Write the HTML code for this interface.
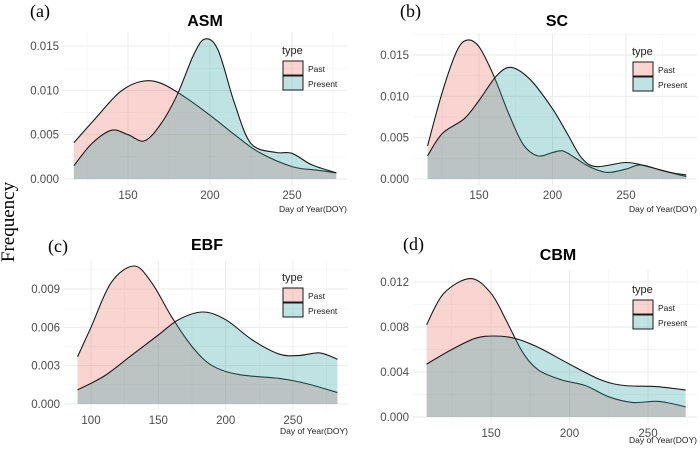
<!DOCTYPE html>
<html><head><meta charset="utf-8"><style>
body{margin:0;background:#fff;}
svg text{font-family:"Liberation Sans",sans-serif;}
</style></head><body>
<svg id="c" width="700" height="446" xmlns="http://www.w3.org/2000/svg">
<text x="14" y="222" transform="rotate(-90 14 222)" text-anchor="middle" font-size="19" fill="#000" style="font-family:'Liberation Serif',serif">Frequency</text>
</svg>
<script>
// Panel (a) ASM
const aPastX=[117,130,145,158,170,185,200,215,230,250,265,277];
const aPastY=[0.0041,0.0068,0.0098,0.0110,0.0108,0.0092,0.0072,0.0050,0.0030,0.0014,0.0010,0.0007];
const aPresX=[117,128,140,150,160,170,180,190,197,205,215,225,240,250,262,277];
const aPresY=[0.0015,0.0040,0.0055,0.0050,0.0043,0.0062,0.0095,0.0140,0.0158,0.0145,0.0085,0.0040,0.0030,0.0029,0.0016,0.0007];
const aYTicks=[0,0.005,0.010,0.015];
const aXTicks=[150,200,250];
// Panel (b) SC
const bPastX=[115,125,135,142,150,160,170,180,190,200,207,215,225,237,250,260,275,291];
const bPastY=[0.0040,0.0105,0.0155,0.0168,0.0160,0.0125,0.0080,0.0042,0.0028,0.0032,0.0034,0.0026,0.0015,0.0008,0.0012,0.0017,0.0010,0.0003];
const bPresX=[115,125,140,150,162,172,185,200,210,220,230,250,265,280,291];
const bPresY=[0.0028,0.0055,0.0073,0.0095,0.0125,0.0135,0.0120,0.0085,0.0055,0.0025,0.0015,0.0020,0.0015,0.0008,0.0005];
const bYTicks=[0,0.005,0.010,0.015];
const bXTicks=[150,200,250];
// Panel (c) EBF
const cPastX=[90,100,115,132,145,160,175,190,210,240,260,283];
const cPastY=[0.0037,0.0060,0.0095,0.0108,0.0095,0.0068,0.0045,0.0030,0.0023,0.0020,0.0016,0.0009];
const cPresX=[90,110,130,150,165,183,200,220,240,255,270,283];
const cPresY=[0.0011,0.0022,0.0038,0.0054,0.0066,0.0072,0.0066,0.0050,0.0039,0.0038,0.0040,0.0035];
const cYTicks=[0,0.003,0.006,0.009];
const cXTicks=[100,150,200,250];
// Panel (d) CBM
const dPastX=[109,120,137,150,160,170,180,195,210,225,240,255,265,274];
const dPastY=[0.0082,0.0110,0.0123,0.0110,0.0085,0.0058,0.0042,0.0033,0.0028,0.0018,0.0013,0.0014,0.0012,0.0009];
const dPresX=[109,125,140,152,165,180,200,220,235,255,274];
const dPresY=[0.0047,0.0060,0.0070,0.0072,0.0070,0.0062,0.0047,0.0033,0.0028,0.0027,0.0024];
const dYTicks=[0,0.004,0.008,0.012];
const dXTicks=[150,200,250];

const PAST_COL='#F07068', PRES_COL='#2a9e9e';
const NS="http://www.w3.org/2000/svg";
const svg=document.getElementById('c');
function el(tag,attrs,parent){const e=document.createElementNS(NS,tag);for(const k in attrs)e.setAttribute(k,attrs[k]);(parent||svg).appendChild(e);return e;}
function smooth(pts){let d=`M${pts[0][0]},${pts[0][1]}`;for(let i=0;i<pts.length-1;i++){const p0=pts[i-1]||pts[i],p1=pts[i],p2=pts[i+1],p3=pts[i+2]||p2;
const c1x=p1[0]+(p2[0]-p0[0])/6,c1y=p1[1]+(p2[1]-p0[1])/6,c2x=p2[0]-(p3[0]-p1[0])/6,c2y=p2[1]-(p3[1]-p1[1])/6;
d+=` C${c1x.toFixed(1)},${c1y.toFixed(1)} ${c2x.toFixed(1)},${c2y.toFixed(1)} ${p2[0].toFixed(1)},${p2[1].toFixed(1)}`;}return d;}

function panel(o){
  const sx=v=>o.x0+(v-o.d0)*(o.x1-o.x0)/(o.d1-o.d0);
  const sy=v=>o.y0-(v)*(o.y0-o.yT)/o.vT;
  const g=el('g',{});
  
  
  const step=o.yTicks[1]-o.yTicks[0];
  for(let i=0;i<o.yTicks.length;i++){
    const ln=el('line',{x1:o.L,x2:o.R,y1:sy(o.yTicks[i]),y2:sy(o.yTicks[i]),stroke:'#ebebeb','stroke-width':1},g);
    
    const mv=o.yTicks[i]+step/2;
    if(sy(mv)>o.T){el('line',{x1:o.L,x2:o.R,y1:sy(mv),y2:sy(mv),stroke:'#f3f3f3','stroke-width':0.7},g);}
    const t=el('text',{x:o.L-4,y:sy(o.yTicks[i])+4,'text-anchor':'end','font-size':11.5,fill:'#4d4d4d'},g);
    t.textContent=o.yTicks[i].toFixed(3);
    
  }
  const xs=o.xTicks[1]-o.xTicks[0];
  for(let v=o.xTicks[0]-xs;v<=o.xTicks[o.xTicks.length-1]+xs;v+=xs/2){
    const x=sx(v);if(x<o.L||x>o.R)continue;
    const major=o.xTicks.includes(v);
    el('line',{x1:x,x2:x,y1:o.T,y2:o.B,stroke:major?'#ebebeb':'#f3f3f3','stroke-width':major?1:0.7},g);
  }
  o.xTicks.forEach(v=>{const t=el('text',{x:sx(v),y:o.B+14,'text-anchor':'middle','font-size':11.5,fill:'#4d4d4d'},g);t.textContent=v;
    });
  [[o.pX,o.pY,PAST_COL,'past'],[o.qX,o.qY,PRES_COL,'present']].forEach(([X,Y,col,nm])=>{
    const pts=X.map((v,i)=>[sx(v),sy(Y[i])]);
    const line=smooth(pts);
    const area=el('path',{d:line+` L${pts[pts.length-1][0]},${sy(0)} L${pts[0][0]},${sy(0)} Z`,fill:col,'fill-opacity':0.3,stroke:'none'},g);
    
    const ln=el('path',{d:line,fill:'none',stroke:'#1a1a1a','stroke-width':1.1},g);
    
  });
  const tt=el('text',{x:o.tx,y:o.ty,'text-anchor':'middle','font-size':16,'font-weight':'bold',fill:'#000'},g);tt.textContent=o.name;
  
  const lb=el('text',{x:o.lx,y:o.ly,'font-size':18,fill:'#000',style:"font-family:'Liberation Serif',serif"},g);lb.textContent=o.lab;
  
  const xl=el('text',{x:o.R,y:o.xly,'text-anchor':'end','font-size':8.5,fill:'#222'},g);xl.textContent='Day of Year(DOY)';
  
  const lg=el('g',{},g);
  const ty=el('text',{x:o.gx,y:o.gy,'font-size':11,fill:'#222'},lg);ty.textContent='type';
  
  [['Past',PAST_COL],['Present',PRES_COL]].forEach(([n,c],i)=>{
    const r=el('rect',{x:o.gx+1,y:o.gy+7+i*15,width:20,height:14,fill:c,'fill-opacity':0.3,stroke:'#1a1a1a','stroke-width':1},lg);
    
    const t=el('text',{x:o.gx+26,y:o.gy+18+i*15,'font-size':8.5,fill:'#222'},lg);t.textContent=n;
    
  });
}
panel({name:'ASM',lab:'(a)',pX:aPastX,pY:aPastY,qX:aPresX,qY:aPresY,yTicks:aYTicks,xTicks:aXTicks,
  x0:128,d0:150,x1:292,d1:250,y0:179,yT:46,vT:0.015,L:63,R:347,T:32,B:185,tx:205,ty:26,lx:30,ly:17,xly:212,gx:282,gy:54});
panel({name:'SC',lab:'(b)',pX:bPastX,pY:bPastY,qX:bPresX,qY:bPresY,yTicks:bYTicks,xTicks:bXTicks,
  x0:479,d0:150,x1:626,d1:250,y0:179,yT:55,vT:0.015,L:413,R:697,T:33,B:185,tx:557,ty:26,lx:400,ly:17,xly:212,gx:632,gy:55});
panel({name:'EBF',lab:'(c)',pX:cPastX,pY:cPastY,qX:cPresX,qY:cPresY,yTicks:cYTicks,xTicks:cXTicks,
  x0:91,d0:100,x1:293,d1:250,y0:404,yT:289,vT:0.009,L:64,R:348,T:260,B:410,tx:207,ty:250,lx:48,ly:252,xly:434,gx:282,gy:281});
panel({name:'CBM',lab:'(d)',pX:dPastX,pY:dPastY,qX:dPresX,qY:dPresY,yTicks:dYTicks,xTicks:dXTicks,
  x0:491,d0:150,x1:648,d1:250,y0:417,yT:282,vT:0.012,L:413,R:697,T:270,B:423,tx:558,ty:260,lx:403,ly:250,xly:443,gx:632,gy:293});
</script>
</body></html>
